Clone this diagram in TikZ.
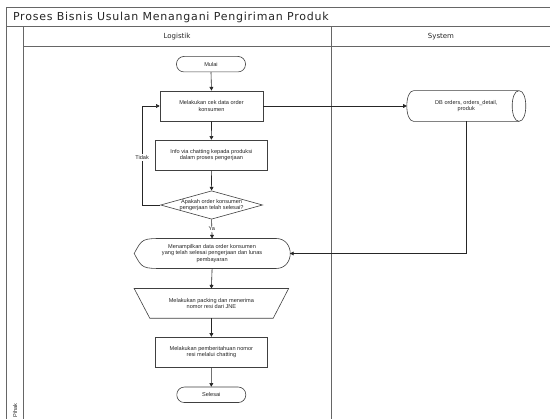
\documentclass[tikz,border=0pt]{standalone}
\usepackage{fontspec}
\setmainfont{Liberation Sans}
\newfontfamily\headfont{DejaVu Sans}
\newfontfamily\titlefont{DejaVu Sans}[LetterSpace=7]
\usetikzlibrary{arrows.meta,shapes.geometric}

\tikzset{
  poolline/.style={draw=black!60, line width=0.9pt},
  shapeline/.style={draw=black!75, line width=0.6pt},
  nodetext/.style={font=\fontsize{5.6}{6.4}\selectfont, align=center, text=black!85},
  procbox/.style={shapeline, rectangle, nodetext, inner sep=0pt},
  terminal/.style={shapeline, rectangle, rounded corners=7.5pt, nodetext, inner sep=0pt,
                   minimum width=69pt, minimum height=15.5pt},
  flow/.style={draw=black!85, line width=0.6pt, -{Triangle[length=3.6pt,width=3.8pt]}},
  tag/.style={nodetext, fill=white, inner sep=1pt},
}

\begin{document}
\begin{tikzpicture}[x=1pt, y=-1pt]
  \clip (0,0) rectangle (550,419);
  \fill[white] (0,0) rectangle (550,419);

  % pool frame, title band, lane headers and lane divider
  \draw[poolline] (6.3,430) -- (6.3,7.3) -- (560,7.3);
  \draw[poolline] (6.3,26.7) -- (560,26.7);
  \draw[poolline] (23.5,26.7) -- (23.5,430);
  \draw[poolline] (23.5,46.7) -- (560,46.7);
  \draw[poolline] (331,26.7) -- (331,430);

  \node[anchor=west, font=\titlefont\fontsize{11}{12}\selectfont, text=black!85]
    (title) at (9.5,17) {Proses Bisnis Usulan Menangani Pengiriman Produk};
  \node[font=\headfont\fontsize{7}{8}\selectfont, text=black!85] (lane1) at (177,36.7) {Logistik};
  \node[font=\headfont\fontsize{7}{8}\selectfont, text=black!85] (lane2) at (441,36.7) {System};
  \node[rotate=90, anchor=west, nodetext] (pool) at (15,421) {Pihak};

  % flow nodes
  \node[terminal] (mulai) at (211,64.2) {Mulai};
  \node[procbox, minimum width=103pt, minimum height=30.3pt] (b1) at (211.5,106)
    {Melakukan cek data order\\konsumen};
  \node[procbox, minimum width=112pt, minimum height=30.3pt] (b2) at (211.4,155.2)
    {Info via chatting kepada produksi\\dalam proses pengerjaan};
  \node[shapeline, diamond, minimum width=102pt, minimum height=28.4pt, inner sep=0pt,
        label={[nodetext]center:Apakah order konsumen\\pengerjaan telah selesai?}]
    (dec) at (211.6,205) {};
  \node[nodetext, minimum width=155.4pt, minimum height=29.6pt, inner sep=0pt] (disp)
    at (212.1,253.5) {Menampilkan data order konsumen\\yang telah selesai pengerjaan dan lunas\\pembayaran};
  \node[nodetext, minimum width=154pt, minimum height=29.3pt, inner sep=0pt] (pack)
    at (211.4,303.4) {Melakukan packing dan menerima\\nomor resi dari JNE};
  \node[procbox, minimum width=112pt, minimum height=30.4pt] (b3) at (211.4,352.3)
    {Melakukan pemberitahuan nomor\\resi melalui chatting};
  \node[terminal] (selesai) at (211.3,394.8) {Selesai};

  % data store, outline drawn below
  \node[nodetext, minimum width=118.6pt, minimum height=30.3pt, inner sep=0pt] (db)
    at (466.3,106) {DB orders, orders\_detail,\\produk};
  \draw[shapeline]
      ([xshift=6.8pt]db.north west) -- ([xshift=-6.8pt]db.north east)
      .. controls ([xshift=2.27pt]db.north east) and ([xshift=2.27pt]db.south east)
      .. ([xshift=-6.8pt]db.south east)
      .. controls ([xshift=-15.87pt]db.south east) and ([xshift=-15.87pt]db.north east)
      .. ([xshift=-6.8pt]db.north east);
  \draw[shapeline]
      ([xshift=-6.8pt]db.south east) -- ([xshift=6.8pt]db.south west)
      .. controls ([xshift=-2.27pt]db.south west) and ([xshift=-2.27pt]db.north west)
      .. ([xshift=6.8pt]db.north west);

  % display outline
  \draw[shapeline] (disp.west)
      .. controls ([xshift=8pt]disp.north west) .. ([xshift=30pt]disp.north west)
      -- ([xshift=-14pt]disp.north east)
      .. controls ([xshift=5pt]disp.north east) and ([xshift=5pt]disp.south east) .. ([xshift=-14pt]disp.south east)
      -- ([xshift=30pt]disp.south west)
      .. controls ([xshift=8pt]disp.south west) .. (disp.west) -- cycle;

  % manual operation outline
  \draw[shapeline] (pack.north west) -- (pack.north east)
      -- ([xshift=-15.4pt]pack.south east) -- ([xshift=15.6pt]pack.south west) -- cycle;

  % connectors
  \draw[flow] (mulai.south) -- (b1.north);
  \draw[flow] (b1.south) -- (b2.north);
  \draw[flow] (b2.south) -- (dec.north);
  \draw[flow] (dec.south) -- node[tag] {Ya} (disp.north);
  \draw[flow] (dec.west) -- ++(-18.2,0) |- node[tag, pos=0.24] {Tidak} (b1.west);
  \draw[flow] (b1.east) -- (db.west);
  \draw[flow] (db.south) |- (disp.east);
  \draw[flow] (disp.south) -- (pack.north);
  \draw[flow] (pack.south) -- (b3.north);
  \draw[flow] (b3.south) -- (selesai.north);
\end{tikzpicture}
\end{document}
